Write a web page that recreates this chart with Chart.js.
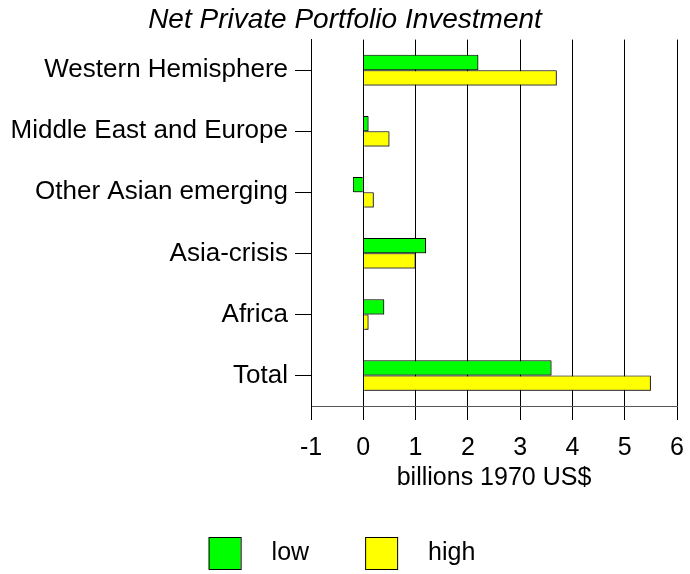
<!DOCTYPE html>
<html>
<head>
<meta charset="utf-8">
<script src="https://cdn.jsdelivr.net/npm/chart.js@4.4.1/dist/chart.umd.min.js"></script>
<style>
  html, body { margin: 0; padding: 0; background: #fff; }
  #wrap { width: 690px; height: 574px; }
</style>
</head>
<body>
<div id="wrap"><canvas id="portfolioChart"></canvas></div>
<script>
const regions = ["Western Hemisphere", "Middle East and Europe", "Other Asian emerging", "Asia-crisis", "Africa", "Total"];
const lowValues = [2.2, 0.1, -0.2, 1.2, 0.4, 3.6];
const highValues = [3.7, 0.5, 0.2, 1.0, 0.1, 5.5];
const xTicks = [-1, 0, 1, 2, 3, 4, 5, 6];

const FONT = "'Liberation Sans', Arial, sans-serif";

// bars get a small grey drop shadow like the original
const barShadow = {
  id: 'barShadow',
  beforeDatasetsDraw(chart) {
    const ctx = chart.ctx;
    ctx.save();
    ctx.shadowColor = 'rgba(0,0,0,0.45)';
    ctx.shadowOffsetX = 1;
    ctx.shadowOffsetY = 1;
    ctx.shadowBlur = 0;
  },
  afterDatasetsDraw(chart) {
    chart.ctx.restore();
  }
};

// legend drawn by hand so the box/text spacing matches
const bottomLegend = {
  id: 'bottomLegend',
  afterDraw(chart) {
    const ctx = chart.ctx;
    const box = 32, gapText = 31, gapItem = 56;
    ctx.save();
    ctx.font = '25px ' + FONT;
    ctx.textBaseline = 'middle';
    const items = chart.data.datasets.map(ds => ({
      label: ds.label, color: ds.backgroundColor, w: ctx.measureText(ds.label).width
    }));
    let total = 0;
    items.forEach((it, i) => { total += box + gapText + it.w + (i ? gapItem : 0); });
    let x = chart.width / 2 - total / 2 - 3;
    const cy = 553;
    items.forEach((it, i) => {
      if (i) x += gapItem;
      ctx.fillStyle = it.color;
      ctx.fillRect(x, cy - box / 2, box, box);
      ctx.strokeStyle = '#000';
      ctx.lineWidth = 1;
      ctx.strokeRect(x + 0.5, cy - box / 2 + 0.5, box, box);
      x += box + gapText;
      ctx.fillStyle = '#000';
      ctx.fillText(it.label, x, cy);
      x += it.w;
    });
    ctx.restore();
  }
};

new Chart(document.getElementById('portfolioChart'), {
  type: 'bar',
  data: {
    labels: regions,
    datasets: [
      { label: 'low', data: lowValues, backgroundColor: '#00ff00', borderColor: '#000', borderWidth: 1 },
      { label: 'high', data: highValues, backgroundColor: '#ffff00', borderColor: '#000', borderWidth: 1 }
    ]
  },
  options: {
    indexAxis: 'y',
    responsive: true,
    maintainAspectRatio: false,
    animation: false,
    categoryPercentage: 0.5,
    barPercentage: 1.0,
    layout: { padding: { left: 0, right: 0, top: 0, bottom: 79 } },
    plugins: {
      legend: { display: false },
      tooltip: { enabled: false },
      title: {
        display: true,
        text: 'Net Private Portfolio Investment',
        color: '#000',
        font: { family: FONT, size: 28, style: 'italic', weight: 'normal' },
        padding: { top: 3, bottom: 3 }
      }
    },
    scales: {
      x: {
        min: -1,
        max: 6,
        afterBuildTicks(scale) { scale.ticks = xTicks.map(v => ({ value: v })); },
        afterFit(scale) { scale.height = 89; scale.paddingRight = 13; },
        grid: { color: '#000', lineWidth: 1, drawOnChartArea: true, tickLength: 14 },
        border: { display: true, color: '#555' },
        ticks: { color: '#000', font: { family: FONT, size: 25 }, padding: 13, maxRotation: 0 },
        title: {
          display: true,
          text: 'billions 1970 US$',
          color: '#000',
          font: { family: FONT, size: 25 },
          padding: { top: 2, bottom: 2 }
        }
      },
      y: {
        afterFit(scale) { scale.width = 311; },
        grid: { offset: false, drawOnChartArea: false, color: '#000', tickLength: 16 },
        border: { display: true, color: '#000' },
        ticks: { color: '#000', font: { family: FONT, size: 26 }, padding: 7, autoSkip: false }
      }
    }
  },
  plugins: [barShadow, bottomLegend]
});
</script>
</body>
</html>
